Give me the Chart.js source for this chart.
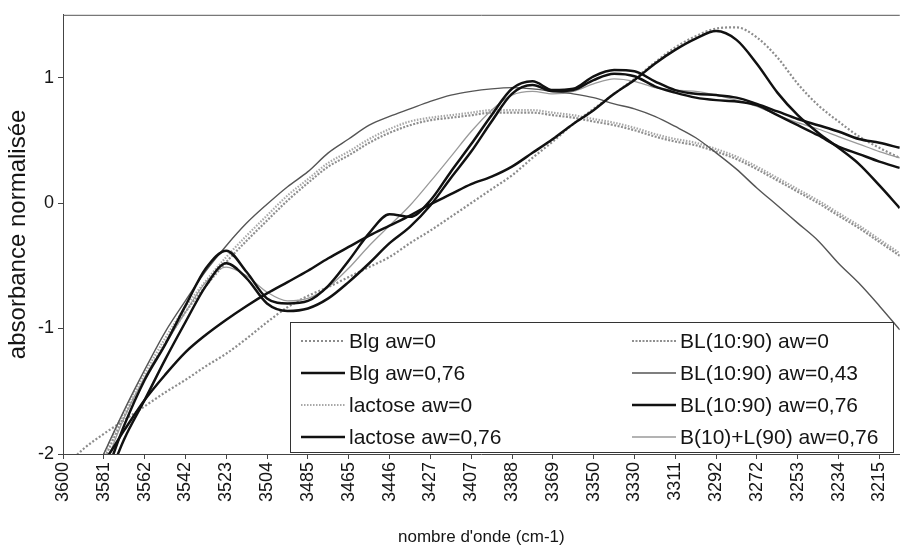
<!DOCTYPE html>
<html>
<head>
<meta charset="utf-8">
<script src="https://cdn.jsdelivr.net/npm/chart.js@4.4.1/dist/chart.umd.min.js"></script>
<style>
  html, body { margin: 0; padding: 0; background: #fff; }
  #wrap { width: 904px; height: 548px; position: relative; }
</style>
</head>
<body>
<div id="wrap"><canvas id="chart"></canvas></div>
<script>
// wavenumbers (cm-1), read every half tick off the scan
const wavenumbers = [3600, 3590.4, 3580.8, 3571.1, 3561.5, 3551.9, 3542.3, 3532.6, 3523, 3513.4,
  3503.8, 3494.1, 3484.5, 3474.9, 3465.3, 3455.6, 3446, 3436.4, 3426.8, 3417.1,
  3407.5, 3397.9, 3388.3, 3378.6, 3369, 3359.4, 3349.8, 3340.1, 3330.5, 3320.9,
  3311.3, 3301.6, 3292, 3282.4, 3272.8, 3263.1, 3253.5, 3243.9, 3234.3, 3224.6,
  3215, 3205.4];

const tickValues = [3600, 3580.75, 3561.5, 3542.25, 3523, 3503.75, 3484.5, 3465.25, 3446, 3426.75,
  3407.5, 3388.25, 3369, 3349.75, 3330.5, 3311.25, 3292, 3272.75, 3253.5, 3234.25, 3215];
const tickLabels = ["3600", "3581", "3562", "3542", "3523", "3504", "3485", "3465", "3446", "3427",
  "3407", "3388", "3369", "3350", "3330", "3311", "3292", "3272", "3253", "3234", "3215"];
const yTicks = [-2, -1, 0, 1];

const seriesNames = ["Blg aw=0", "Blg aw=0,76", "lactose aw=0", "lactose aw=0,76",
  "BL(10:90) aw=0", "BL(10:90) aw=0,43", "BL(10:90) aw=0,76", "B(10)+L(90) aw=0,76"];

const blg0 = [-2.12, -1.96, -1.84, -1.73, -1.62, -1.51, -1.41, -1.30, -1.20, -1.08,
  -0.95, -0.83, -0.74, -0.67, -0.59, -0.51, -0.43, -0.32, -0.22, -0.11,
  0.00, 0.11, 0.22, 0.36, 0.49, 0.63, 0.75, 0.87, 0.99, 1.12,
  1.24, 1.33, 1.39, 1.40, 1.32, 1.16, 0.95, 0.78, 0.65, 0.53, 0.44, 0.36];
const blg076 = [-2.36, -2.20, -2.06, -1.81, -1.57, -1.37, -1.19, -1.05, -0.93, -0.82,
  -0.72, -0.63, -0.54, -0.44, -0.35, -0.26, -0.18, -0.10, -0.01, 0.07,
  0.15, 0.21, 0.29, 0.40, 0.51, 0.63, 0.74, 0.87, 0.98, 1.11,
  1.22, 1.31, 1.37, 1.30, 1.11, 0.88, 0.70, 0.56, 0.44, 0.31, 0.14, -0.04];
const lac0 = [-2.72, -2.38, -2.01, -1.66, -1.36, -1.08, -0.83, -0.62, -0.43, -0.26,
  -0.10, 0.06, 0.19, 0.32, 0.41, 0.51, 0.59, 0.65, 0.68, 0.70,
  0.72, 0.74, 0.74, 0.74, 0.72, 0.70, 0.67, 0.64, 0.60, 0.55,
  0.51, 0.48, 0.43, 0.37, 0.29, 0.20, 0.11, 0.02, -0.08, -0.18, -0.29, -0.40];
const lac076 = [-2.83, -2.52, -2.20, -1.77, -1.41, -1.13, -0.82, -0.52, -0.38, -0.55,
  -0.76, -0.80, -0.78, -0.66, -0.46, -0.24, -0.09, -0.11, 0.02, 0.25,
  0.47, 0.70, 0.91, 0.97, 0.90, 0.91, 1.01, 1.06, 1.05, 0.97,
  0.90, 0.87, 0.86, 0.84, 0.79, 0.73, 0.67, 0.62, 0.57, 0.51, 0.48, 0.44];
const bl0 = [-2.76, -2.42, -2.05, -1.70, -1.40, -1.12, -0.87, -0.66, -0.47, -0.30,
  -0.14, 0.02, 0.16, 0.29, 0.38, 0.48, 0.56, 0.62, 0.66, 0.68,
  0.70, 0.72, 0.72, 0.72, 0.70, 0.68, 0.65, 0.62, 0.58, 0.53,
  0.49, 0.46, 0.41, 0.35, 0.27, 0.18, 0.09, 0.00, -0.10, -0.20, -0.31, -0.42];
const bl043 = [-2.68, -2.36, -2.00, -1.65, -1.33, -1.03, -0.78, -0.54, -0.34, -0.16,
  -0.01, 0.13, 0.25, 0.40, 0.51, 0.62, 0.69, 0.75, 0.81, 0.86,
  0.89, 0.91, 0.92, 0.91, 0.89, 0.87, 0.84, 0.79, 0.75, 0.69,
  0.61, 0.52, 0.40, 0.27, 0.12, -0.02, -0.16, -0.30, -0.48, -0.64, -0.82, -1.01];
const bl076 = [-2.91, -2.60, -2.28, -1.88, -1.57, -1.25, -0.95, -0.66, -0.48, -0.60,
  -0.80, -0.86, -0.84, -0.76, -0.63, -0.48, -0.32, -0.19, -0.02, 0.20,
  0.41, 0.65, 0.87, 0.94, 0.89, 0.90, 0.98, 1.03, 1.01, 0.93,
  0.88, 0.84, 0.82, 0.81, 0.78, 0.70, 0.62, 0.54, 0.45, 0.39, 0.33, 0.28];
const sumBL = [-2.87, -2.52, -2.12, -1.71, -1.39, -1.13, -0.87, -0.63, -0.51, -0.58,
  -0.71, -0.78, -0.76, -0.67, -0.52, -0.34, -0.18, -0.02, 0.17, 0.37,
  0.57, 0.74, 0.86, 0.89, 0.87, 0.89, 0.95, 0.99, 0.97, 0.92,
  0.90, 0.89, 0.86, 0.82, 0.77, 0.70, 0.64, 0.59, 0.53, 0.47, 0.41, 0.36];

const seriesValues = [blg0, blg076, lac0, lac076, bl0, bl043, bl076, sumBL];

// scan look: grey hatched, black thick, thin grey
const lineStyles = [
  { color: "#8c8c8c", width: 2.2, dash: [2, 2], order: 2 },
  { color: "#111111", width: 2.5, dash: [], order: 0 },
  { color: "#a8a8a8", width: 2.2, dash: [1.5, 1.5], order: 2 },
  { color: "#111111", width: 2.5, dash: [], order: 0 },
  { color: "#8f8f8f", width: 2.2, dash: [2, 1.5], order: 2 },
  { color: "#555555", width: 1.4, dash: [], order: 1 },
  { color: "#111111", width: 2.5, dash: [], order: 0 },
  { color: "#9a9a9a", width: 1.3, dash: [], order: 1 },
];

const legendBox = { left: 290, top: 322, right: 893, bottom: 452 };
const legendRows = [341, 373, 405, 437];
const legendCols = [
  { from: 301, to: 345, text: 349 },
  { from: 632, to: 676, text: 680 },
];

function points(values) {
  return values.map((y, i) => ({ x: wavenumbers[i], y: y }));
}

const framePlugin = {
  id: "frame",
  afterDatasetsDraw(chart) {
    const { ctx, chartArea } = chart;
    ctx.save();
    ctx.strokeStyle = "#555";
    ctx.lineWidth = 1;
    ctx.beginPath();
    ctx.moveTo(chartArea.left, chartArea.top + 0.5);
    ctx.lineTo(chartArea.right, chartArea.top + 0.5);
    ctx.stroke();
    ctx.restore();
  },
};

const boxLegendPlugin = {
  id: "boxLegend",
  afterDraw(chart) {
    const ctx = chart.ctx;
    ctx.save();
    ctx.fillStyle = "#fff";
    ctx.fillRect(legendBox.left, legendBox.top, legendBox.right - legendBox.left, legendBox.bottom - legendBox.top);
    ctx.strokeStyle = "#333";
    ctx.lineWidth = 1;
    ctx.strokeRect(legendBox.left + 0.5, legendBox.top + 0.5, legendBox.right - legendBox.left, legendBox.bottom - legendBox.top);

    ctx.font = "21px 'Liberation Sans', Arial, sans-serif";
    ctx.textBaseline = "middle";
    ctx.textAlign = "left";
    chart.data.datasets.forEach((ds, i) => {
      const col = legendCols[Math.floor(i / 4)];
      const y = legendRows[i % 4];
      ctx.strokeStyle = ds.borderColor;
      ctx.lineWidth = ds.borderWidth;
      ctx.setLineDash(ds.borderDash || []);
      ctx.beginPath();
      ctx.moveTo(col.from, y);
      ctx.lineTo(col.to, y);
      ctx.stroke();
      ctx.setLineDash([]);
      ctx.fillStyle = "#151515";
      ctx.fillText(ds.label, col.text, y + 1);
    });
    ctx.restore();
  },
};

Chart.defaults.font.family = "'Liberation Sans', Arial, sans-serif";
Chart.defaults.color = "#151515";

new Chart(document.getElementById("chart"), {
  type: "line",
  data: {
    datasets: seriesNames.map((name, i) => ({
      label: name,
      data: points(seriesValues[i]),
      borderColor: lineStyles[i].color,
      borderWidth: lineStyles[i].width,
      borderDash: lineStyles[i].dash,
      order: lineStyles[i].order,
      pointRadius: 0,
      fill: false,
      cubicInterpolationMode: "monotone",
    })),
  },
  options: {
    responsive: true,
    maintainAspectRatio: false,
    animation: false,
    layout: { padding: { top: 11, right: 0, bottom: 0, left: 0 } },
    plugins: {
      legend: { display: false },
      tooltip: { enabled: false },
    },
    scales: {
      x: {
        type: "linear",
        reverse: true,
        min: 3205.4,
        max: 3600,
        afterBuildTicks: (axis) => {
          axis.ticks = tickValues.map((v) => ({ value: v }));
        },
        afterFit: (axis) => {
          axis.height = 94;
        },
        ticks: {
          autoSkip: false,
          maxRotation: 90,
          minRotation: 90,
          padding: 3,
          font: { size: 18 },
          callback: (v, i) => tickLabels[i],
        },
        grid: { display: true, drawOnChartArea: false, drawTicks: true, tickLength: 5, color: "#444" },
        border: { display: true, color: "#444", width: 1 },
        title: {
          display: true,
          text: "nombre d'onde (cm-1)",
          font: { size: 17 },
          padding: { top: 0, bottom: 0 },
        },
      },
      y: {
        min: -2,
        max: 1.5,
        afterBuildTicks: (axis) => {
          axis.ticks = yTicks.map((v) => ({ value: v }));
        },
        afterFit: (axis) => {
          axis.width = 63;
        },
        ticks: {
          padding: 4,
          font: { size: 18 },
          callback: (v) => String(v),
        },
        grid: { display: true, drawOnChartArea: false, drawTicks: true, tickLength: 5, color: "#444" },
        border: { display: true, color: "#444", width: 1 },
        title: {
          display: true,
          text: "absorbance normalisée",
          font: { size: 24 },
          padding: { top: 4, bottom: 0 },
        },
      },
    },
  },
  plugins: [framePlugin, boxLegendPlugin],
});
</script>
</body>
</html>
